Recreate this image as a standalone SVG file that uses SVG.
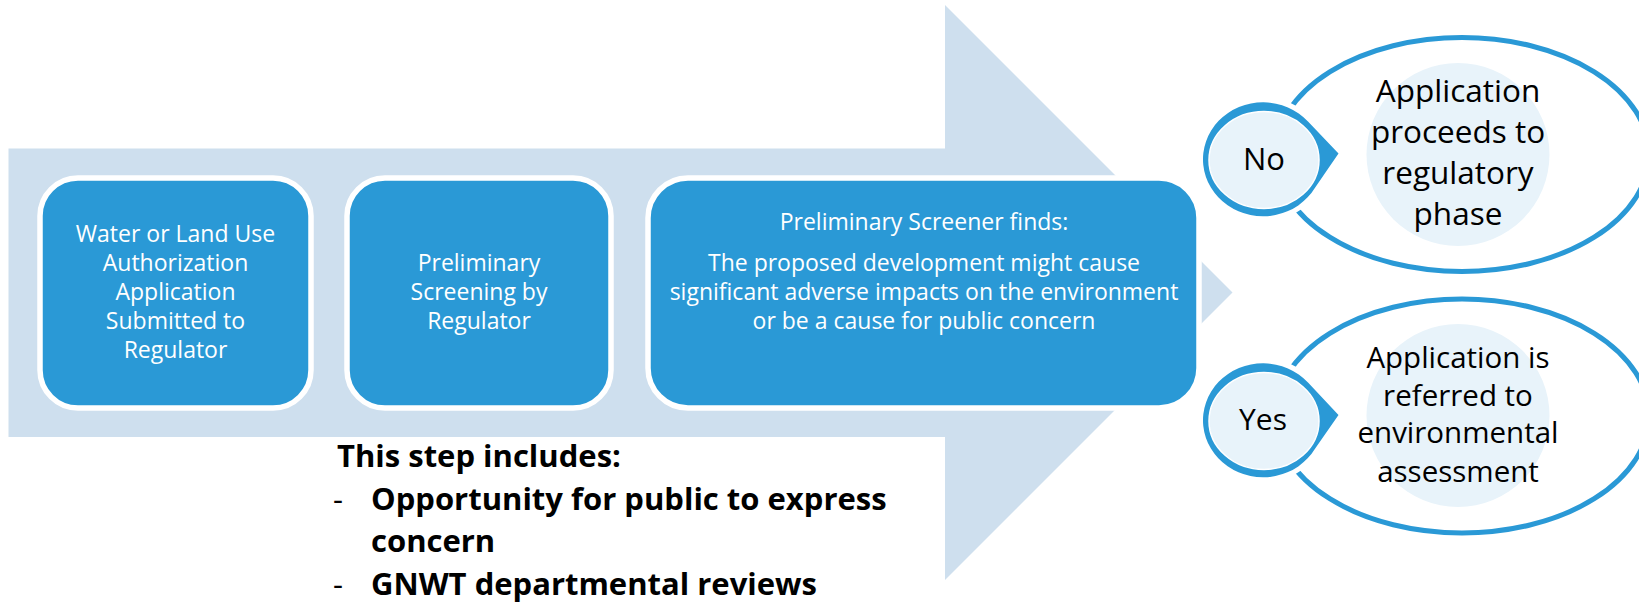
<svg xmlns="http://www.w3.org/2000/svg" width="1639" height="607" viewBox="0 0 1639 607">
<style>
.arrow{fill:#CEDFEE}
.box{fill:#2A99D6;stroke:#FFFFFF;stroke-width:5.5}
.bt{fill:#FFFFFF;font-family:"Open Sans","Liberation Sans",sans-serif;font-size:23px;text-anchor:middle}
.ell{fill:#FFFFFF;stroke:#2A99D6;stroke-width:5}
.inner{fill:#E8F3FA}
.call{fill:#2A99D6;stroke:#FFFFFF;stroke-width:10;paint-order:stroke}
.cin{fill:#E8F3FA;stroke:#FFFFFF;stroke-width:1.5}
.et{fill:#000000;font-family:"Open Sans","Liberation Sans",sans-serif;text-anchor:middle}
.note{fill:#000000;font-family:"Open Sans","Liberation Sans",sans-serif;font-size:31px;font-weight:bold}
.dash{fill:#000000;font-family:"Open Sans","Liberation Sans",sans-serif;font-size:31px}
</style>
<rect width="1639" height="607" fill="#FFFFFF"/>
<g id="connectors">
<polygon class="arrow" points="8.5,148.5 945,148.5 945,5 1232.5,292.5 945,580 945,437 8.5,437"/>
</g>
<g id="node-application">
<rect class="box" x="40" y="178" width="271" height="230" rx="38" ry="38"/>
<text class="bt" x="175.5" y="242">Water or Land Use</text>
<text class="bt" x="175.5" y="271">Authorization</text>
<text class="bt" x="175.5" y="300">Application</text>
<text class="bt" x="175.5" y="329">Submitted to</text>
<text class="bt" x="175.5" y="358">Regulator</text>
</g>
<g id="node-screening">
<rect class="box" x="347" y="178" width="264" height="230" rx="38" ry="38"/>
<text class="bt" x="479" y="271">Preliminary</text>
<text class="bt" x="479" y="300">Screening by</text>
<text class="bt" x="479" y="329">Regulator</text>
</g>
<g id="node-finding">
<rect class="box" x="648" y="178" width="551" height="230" rx="40" ry="40"/>
<text class="bt" x="924" y="230">Preliminary Screener finds:</text>
<text class="bt" x="924" y="271">The proposed development might cause</text>
<text class="bt" x="924" y="300">significant adverse impacts on the environment</text>
<text class="bt" x="924" y="329">or be a cause for public concern</text>
</g>
<g id="node-includes">
<text class="note" x="337" y="467">This step includes:</text>
<text class="dash" x="333" y="510">-</text>
<text class="note" x="371" y="510">Opportunity for public to express</text>
<text class="note" x="371" y="552">concern</text>
<text class="dash" x="333" y="595">-</text>
<text class="note" x="371" y="595">GNWT departmental reviews</text>
</g>
<g id="node-regulatory">
<ellipse class="ell" cx="1462" cy="154.5" rx="187" ry="117"/>
<circle class="inner" cx="1458" cy="154.5" r="91.5"/>
<text class="et" x="1458" y="101.5" font-size="31.5">Application</text>
<text class="et" x="1458" y="143" font-size="31.5">proceeds to</text>
<text class="et" x="1458" y="184" font-size="31.5">regulatory</text>
<text class="et" x="1458" y="225" font-size="31.5">phase</text>
</g>
<g id="node-no">
<path class="call" d="M1308,121.6 L1338.5,153.5 L1315,187.7 A60,57 0 1 1 1308,121.6 Z"/>
<ellipse class="cin" cx="1264" cy="160" rx="55" ry="48.5"/>
<text class="et" x="1264" y="170" font-size="31">No</text>
</g>
<g id="node-assessment">
<ellipse class="ell" cx="1462" cy="416" rx="187" ry="117"/>
<circle class="inner" cx="1458" cy="415.5" r="91.5"/>
<text class="et" x="1458" y="368" font-size="29.5">Application is</text>
<text class="et" x="1458" y="405.5" font-size="29.5">referred to</text>
<text class="et" x="1458" y="443" font-size="29.5">environmental</text>
<text class="et" x="1458" y="481.5" font-size="29.5">assessment</text>
</g>
<g id="node-yes">
<path class="call" d="M1308,382.6 L1338.5,415 L1315,448.7 A60,57 0 1 1 1308,382.6 Z"/>
<ellipse class="cin" cx="1264" cy="421" rx="55" ry="48.5"/>
<text class="et" x="1263" y="430" font-size="30">Yes</text>
</g>
</svg>
